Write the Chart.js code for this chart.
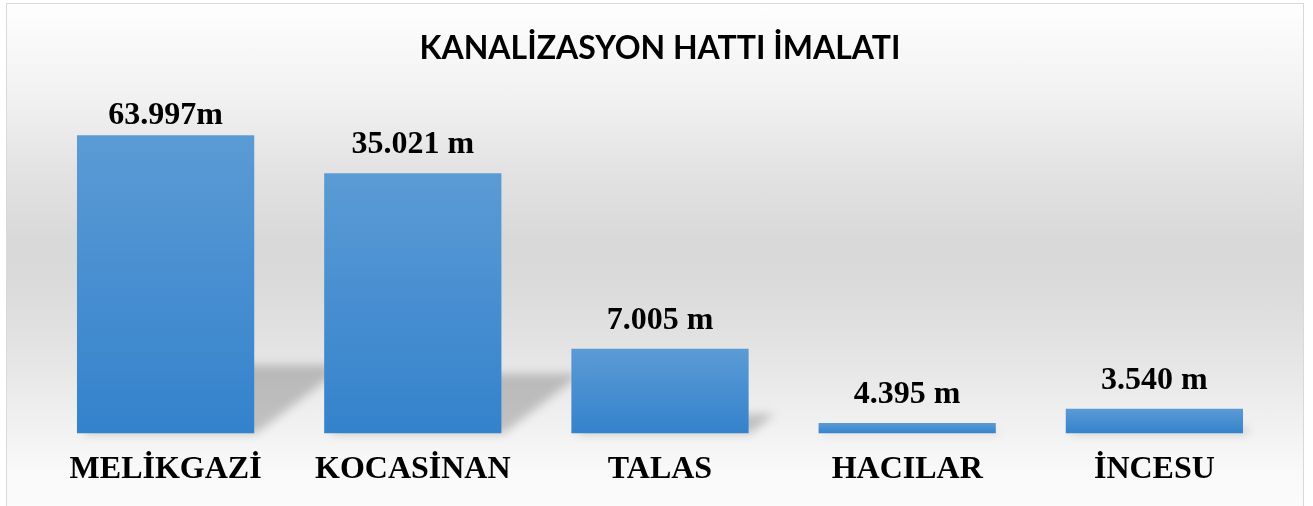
<!DOCTYPE html>
<html lang="tr">
<head>
    <meta charset="UTF-8">
    <title>Kanalizasyon Hatti Imalati</title>
    <style>
        body {
            margin: 0;
            padding: 0;
            background: #ffffff;
            overflow: hidden;
        }

        .frame {
            position: absolute;
            left: 6px;
            top: 3px;
            width: 1296px;
            height: 530px;
            border: 1px solid #d9d9d9;
            background: linear-gradient(to bottom,
                #fefefe 0px,
                #f1f1f1 95px,
                #e3e3e3 165px,
                #d9d9d9 235px,
                #dadada 275px,
                #e1e1e1 327px,
                #e9e9e9 377px,
                #f2f2f2 427px,
                #f9f9f9 467px,
                #fcfcfc 530px);
        }

        .chartBox {
            position: absolute;
            left: 0;
            top: 0;
            width: 1313px;
            height: 506px;
        }
    </style>
</head>
<body>
    <div class="frame"></div>
    <div class="chartBox">
        <canvas id="myChart"></canvas>
    </div>

    <script src="https://cdn.jsdelivr.net/npm/chart.js/dist/chart.umd.min.js"></script>
    <script>
        // data
        const districts = ['MELİKGAZİ', 'KOCASİNAN', 'TALAS', 'HACILAR', 'İNCESU']
        // bar heights (share of plot height, %)
        const barHeights = [90, 78.5, 25.6, 3.2, 7.5]
        // labels printed above the bars
        const valueLabels = ['63.997m', '35.021 m', '7.005 m', '4.395 m', '3.540 m']
        const chartTitle = 'KANALİZASYON HATTI İMALATI'

        // gradient per bar, light at top, darker at base
        function barFill(context) {
            const chart = context.chart
            const { ctx, chartArea, scales } = chart
            if (!chartArea || context.dataIndex === undefined) return '#4a90d4'
            const v = context.raw
            const top = scales.y.getPixelForValue(v)
            const bottom = scales.y.getPixelForValue(0)
            const g = ctx.createLinearGradient(0, top, 0, bottom)
            g.addColorStop(0, '#5b9bd5')
            g.addColorStop(1, '#3482cc')
            return g
        }

        // perspective shadow behind each bar
        const barShadows = {
            id: 'barShadows',
            beforeDatasetsDraw(chart) {
                const ctx = chart.ctx
                const meta = chart.getDatasetMeta(0)
                ctx.save()
                ctx.filter = 'blur(5px)'
                ctx.fillStyle = 'rgba(0, 0, 0, 0.2)'
                meta.data.forEach((bar) => {
                    const h = bar.base - bar.y
                    const sh = h * 0.23
                    const skew = sh * 1.33
                    const left = bar.x - bar.width / 2
                    const right = bar.x + bar.width / 2
                    ctx.beginPath()
                    ctx.moveTo(left + 4, bar.base)
                    ctx.lineTo(right + 2, bar.base)
                    ctx.lineTo(right + skew, bar.base - sh)
                    ctx.lineTo(left + skew, bar.base - sh)
                    ctx.closePath()
                    ctx.fill()
                })
                ctx.restore()
            }
        }

        // value labels above bars, kept inside the plot area
        const valueText = {
            id: 'valueText',
            afterDatasetsDraw(chart) {
                const ctx = chart.ctx
                const meta = chart.getDatasetMeta(0)
                ctx.save()
                ctx.font = 'bold 32px "Liberation Serif", "Times New Roman", serif'
                ctx.fillStyle = '#000000'
                ctx.textAlign = 'center'
                ctx.textBaseline = 'alphabetic'
                meta.data.forEach((bar, i) => {
                    const y = Math.max(bar.y - 20, chart.chartArea.top + 22)
                    ctx.fillText(valueLabels[i], bar.x, y)
                })
                ctx.restore()
            }
        }

        const config = {
            type: 'bar',
            data: {
                labels: districts,
                datasets: [{
                    label: 'Kanalizasyon',
                    data: barHeights,
                    backgroundColor: barFill,
                    borderWidth: 0,
                    barPercentage: 0.717,
                    categoryPercentage: 1
                }]
            },
            options: {
                responsive: false,
                animation: false,
                layout: {
                    padding: { left: 42, right: 35, top: 29, bottom: 0 }
                },
                plugins: {
                    legend: { display: false },
                    tooltip: { enabled: false },
                    title: {
                        display: true,
                        text: chartTitle,
                        color: '#000000',
                        font: { family: 'Lato', size: 32, weight: 'bold', lineHeight: 1.2 },
                        padding: { top: 0, bottom: 34.6 }
                    }
                },
                scales: {
                    x: {
                        grid: { display: false, drawTicks: false },
                        border: { display: false },
                        ticks: {
                            color: '#000000',
                            padding: 17,
                            font: { family: '"Liberation Serif", "Times New Roman", serif', size: 32, weight: 'bold' }
                        }
                    },
                    y: {
                        display: false,
                        min: 0,
                        max: 100
                    }
                }
            },
            plugins: [barShadows, valueText]
        }

        const canvas = document.getElementById('myChart')
        canvas.width = 1313
        canvas.height = 506
        const myChart = new Chart(canvas, config)
    </script>
</body>
</html>
